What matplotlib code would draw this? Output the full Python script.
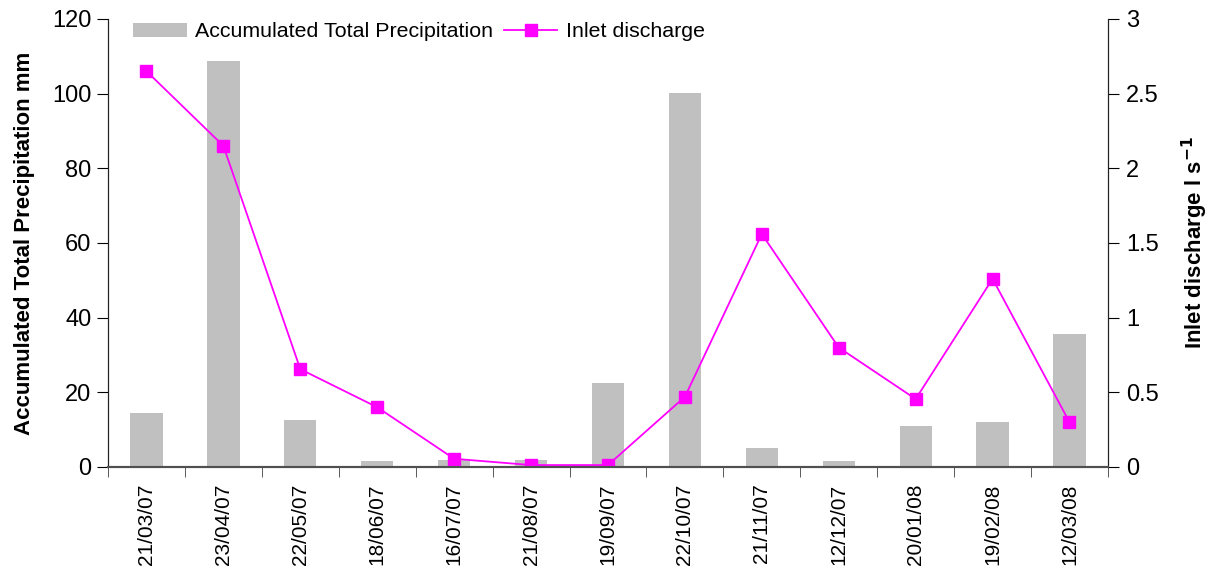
import matplotlib.pyplot as plt
import numpy as np

plt.rcParams["font.family"] = ["Liberation Sans", "DejaVu Sans"]

dates = ["21/03/07", "23/04/07", "22/05/07", "18/06/07", "16/07/07", "21/08/07",
         "19/09/07", "22/10/07", "21/11/07", "12/12/07", "20/01/08", "19/02/08",
         "12/03/08"]
precip_mm = [14.5, 108.8, 12.6, 1.5, 2.0, 2.0, 22.5, 100.2, 5.0, 1.5, 11.0, 12.0, 35.7]
discharge = [2.65, 2.15, 0.655, 0.40, 0.055, 0.013, 0.013, 0.47, 1.56, 0.80, 0.455, 1.26, 0.30]

x = np.arange(len(dates))

fig = plt.figure(figsize=(12.15, 5.73), dpi=100)
ax = fig.add_axes([0.0889, 0.185, 0.823, 0.782])
ax2 = ax.twinx()

bars = ax.bar(x, precip_mm, width=0.42, color="#c0c0c0", label="Accumulated Total Precipitation")
line, = ax2.plot(x, discharge, color="#ff00ff", lw=1.3, marker="s", ms=8.5,
                 label="Inlet discharge")

ax.set_xlim(-0.5, len(dates) - 0.5)
ax.set_ylim(0, 120)
ax.set_yticks(range(0, 121, 20))
ax2.set_ylim(0, 3)
ax2.set_yticks([0, 0.5, 1, 1.5, 2, 2.5, 3])
ax2.set_yticklabels(["0", "0.5", "1", "1.5", "2", "2.5", "3"])

# labels at category centres, tick marks at category boundaries
ax.set_xticks(x)
ax.set_xticklabels(dates, rotation=90)
ax.set_xticks(np.arange(-0.5, len(dates)), minor=True)
ax.tick_params(axis="x", which="major", length=0, pad=12, labelsize=15)
ax.tick_params(axis="x", which="minor", length=7, direction="out", color="#404040")
ax.tick_params(axis="y", length=8, direction="out", labelsize=17, pad=4)
ax2.tick_params(axis="y", length=8, direction="out", labelsize=17, pad=5)

for a in (ax, ax2):
    a.spines["top"].set_visible(False)
    a.spines["left"].set_color("#202020")
    a.spines["right"].set_color("#202020")
    a.spines["bottom"].set_color("#505050")
    a.spines["bottom"].set_linewidth(1.5)

ax.set_ylabel("Accumulated Total Precipitation mm", fontsize=16, fontweight="bold", labelpad=12)
ax2.set_ylabel("Inlet discharge l s$^{\\mathbf{-1}}$", fontsize=16, fontweight="bold", labelpad=15)

ax2.legend([bars, line], ["Accumulated Total Precipitation", "Inlet discharge"],
           loc="upper left", bbox_to_anchor=(0.006, 1.035), ncol=2, frameon=False,
           fontsize=15.4, handlelength=2.5, columnspacing=0.5, handletextpad=0.4)

fig.savefig("out.png", dpi=100)
